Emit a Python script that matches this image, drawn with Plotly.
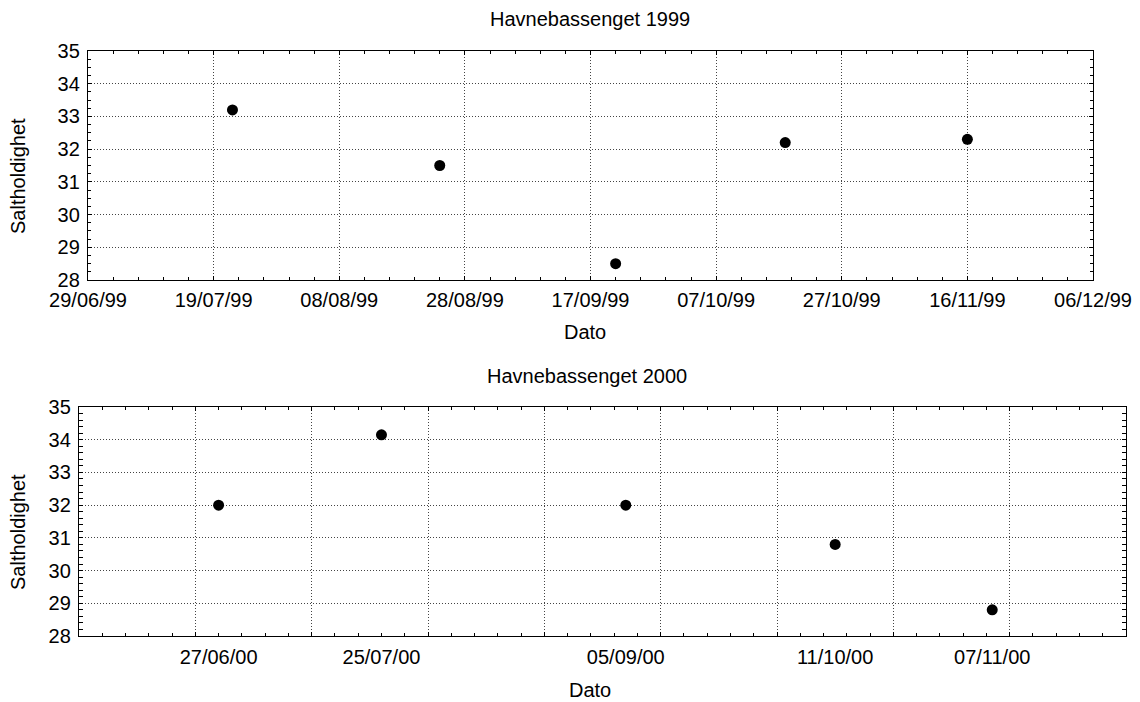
import plotly.graph_objects as go

# Data
dates_1999 = ["1999-07-22", "1999-08-24", "1999-09-21", "1999-10-18", "1999-11-16"]
salt_1999 = [33.2, 31.5, 28.5, 32.2, 32.3]

dates_2000 = ["2000-06-27", "2000-07-25", "2000-09-05", "2000-10-11", "2000-11-07"]
salt_2000 = [32.0, 34.15, 32.0, 30.8, 28.8]
labels_2000 = ["27/06/00", "25/07/00", "05/09/00", "11/10/00", "07/11/00"]

title_1999 = "Havnebassenget 1999"
title_2000 = "Havnebassenget 2000"
x_title = "Dato"
y_title = "Saltholdighet"

DAY = 86400000
FONT = "Liberation Sans, Arial, sans-serif"
FS = 20

fig = go.Figure()
fig.add_trace(go.Scatter(x=dates_1999, y=salt_1999, mode="markers",
                         marker=dict(color="black", size=11),
                         xaxis="x", yaxis="y", showlegend=False, cliponaxis=False))
fig.add_trace(go.Scatter(x=dates_2000, y=salt_2000, mode="markers",
                         marker=dict(color="black", size=11),
                         xaxis="x2", yaxis="y2", showlegend=False, cliponaxis=False))
# empty trace so the label axis of the lower panel is drawn
fig.add_trace(go.Scatter(x=[], y=[], mode="markers", xaxis="x3", yaxis="y2",
                         showlegend=False, hoverinfo="skip"))

axis_common = dict(showline=True, linecolor="black", linewidth=1.4, mirror="allticks",
                   gridcolor="#444", griddash="1px,2px", gridwidth=1, zeroline=False,
                   ticks="inside", ticklen=4, tickcolor="black", automargin=False,
                   tickfont=dict(size=FS, color="black", family=FONT))

dom_top = [88/1140, 1093/1140]
dom_bot = [79/1140, 1126/1140]

fig.update_layout(
    width=1140, height=702,
    margin=dict(l=0, r=0, t=0, b=0, autoexpand=False),
    paper_bgcolor="white", plot_bgcolor="white",
    font=dict(family=FONT, color="black"),
    xaxis=dict(type="date", domain=dom_top, anchor="y",
               range=["1999-06-29", "1999-12-06"], tick0="1999-06-29", dtick=20*DAY,
               tickformat="%d/%m/%y", showgrid=True, ticklabelstandoff=2,
               minor=dict(ticks="inside", ticklen=3, dtick=4*DAY, tick0="1999-06-29",
                          tickcolor="black", showgrid=False),
               **axis_common),
    yaxis=dict(domain=[1-280/702, 1-51/702], anchor="x", range=[28, 35], dtick=1,
               showgrid=True, ticklabelstandoff=3,
               minor=dict(ticks="inside", ticklen=3, dtick=0.25, tickcolor="black", showgrid=False),
               **axis_common),
    xaxis2=dict(type="date", domain=dom_bot, anchor="y2",
                range=["2000-06-03", "2000-11-30"], tick0="2000-06-03", dtick=20*DAY,
                showticklabels=False, showgrid=True,
                minor=dict(ticks="inside", ticklen=3, dtick=4*DAY, tick0="2000-06-03",
                           tickcolor="black", showgrid=False),
                **axis_common),
    xaxis3=dict(type="date", overlaying="x2", anchor="y2", side="bottom", domain=dom_bot,
                range=["2000-06-03", "2000-11-30"], automargin=False,
                tickmode="array", tickvals=dates_2000, ticktext=labels_2000,
                ticks="", showgrid=False, showline=False, zeroline=False,
                ticklabelstandoff=7,
                tickfont=dict(size=FS, color="black", family=FONT)),
    yaxis2=dict(domain=[1-636/702, 1-407/702], anchor="x2", range=[28, 35], dtick=1,
                showgrid=True, ticklabelstandoff=3,
                minor=dict(ticks="inside", ticklen=3, dtick=0.2, tickcolor="black", showgrid=False),
                **axis_common),
)

ann_font = dict(family=FONT, size=FS, color="black")
annotations = [
    dict(text=title_1999, x=590/1140, y=1-19/702),
    dict(text=title_2000, x=587/1140, y=1-376/702),
    dict(text=x_title, x=585/1140, y=1-332/702),
    dict(text=x_title, x=590/1140, y=1-690/702),
]
for a in annotations:
    fig.add_annotation(xref="paper", yref="paper", showarrow=False,
                       xanchor="center", yanchor="middle", font=ann_font, **a)
for yc in [1-176/702, 1-532/702]:
    fig.add_annotation(xref="paper", yref="paper", showarrow=False, text=y_title,
                       x=18/1140, y=yc, textangle=-90, xanchor="center", yanchor="middle",
                       font=ann_font)

fig.write_html("out.html", config={"displayModeBar": False},
               post_script="document.body.style.margin='0';document.body.style.overflow='hidden';")
